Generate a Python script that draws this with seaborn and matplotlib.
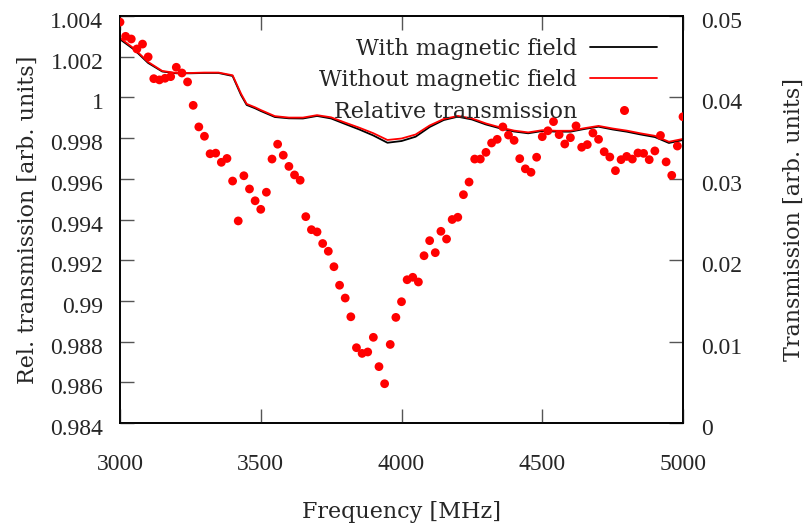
import numpy as np
import pandas as pd
import matplotlib
matplotlib.use("Agg")
import matplotlib.pyplot as plt
import matplotlib.transforms as mtransforms
from matplotlib.lines import Line2D
from matplotlib.font_manager import FontProperties
import seaborn as sns

# Relative transmission (left axis) - points
rel_freq = [3000, 3020, 3040, 3060, 3080, 3100, 3120, 3140, 3160, 3180,
            3200, 3220, 3240, 3260, 3280, 3300, 3320, 3340, 3360, 3380,
            3400, 3420, 3440, 3460, 3480, 3500, 3520, 3540, 3560, 3580,
            3600, 3620, 3640, 3660, 3680, 3700, 3720, 3740, 3760, 3780,
            3800, 3820, 3840, 3860, 3880, 3900, 3920, 3940, 3960, 3980,
            4000, 4020, 4040, 4060, 4080, 4100, 4120, 4140, 4160, 4180,
            4200, 4220, 4240, 4260, 4280, 4300, 4320, 4340, 4360, 4380,
            4400, 4420, 4440, 4460, 4480, 4500, 4520, 4540, 4560, 4580,
            4600, 4620, 4640, 4660, 4680, 4700, 4720, 4740, 4760, 4780,
            4800, 4820, 4840, 4860, 4880, 4900, 4920, 4940, 4960, 4980, 5000]
rel_val = [1.0037, 1.0030, 1.00287, 1.00238, 1.00262, 1.00199, 1.00092, 1.00086, 1.00094, 1.00102,
           1.00148, 1.00120, 1.00076, 0.99961, 0.99855, 0.99809, 0.99723, 0.99726, 0.99681, 0.99700,
           0.99589, 0.99393, 0.99615, 0.99550, 0.99492, 0.99450, 0.99534, 0.99697, 0.99770, 0.99716,
           0.99661, 0.99619, 0.99593, 0.99414, 0.99350, 0.99339, 0.99282, 0.99244, 0.99168, 0.99077,
           0.99014, 0.98922, 0.98770, 0.98742, 0.98749, 0.98821, 0.98677, 0.98593, 0.98786, 0.98919,
           0.98996, 0.99104, 0.99116, 0.99093, 0.99222, 0.99296, 0.99237, 0.99342, 0.99304, 0.99400,
           0.99411, 0.99522, 0.99584, 0.99697, 0.99697, 0.99730, 0.99776, 0.99794, 0.99855, 0.99815,
           0.99789, 0.99699, 0.99649, 0.99632, 0.99706, 0.99807, 0.99836, 0.99881, 0.99817, 0.99771,
           0.99802, 0.99860, 0.99755, 0.99768, 0.99825, 0.99794, 0.99733, 0.99707, 0.99640, 0.99694,
           0.99710, 0.99697, 0.99727, 0.99725, 0.99694, 0.99737, 0.99813, 0.99683, 0.99617, 0.99761, 0.99905]

# Transmission (right axis) - lines
tr_freq = [3000, 3050, 3100, 3150, 3200, 3250, 3300, 3350, 3400, 3430,
           3450, 3480, 3500, 3550, 3600, 3650, 3700, 3750, 3800, 3850,
           3900, 3950, 4000, 4050, 4100, 4150, 4200, 4250, 4300, 4350,
           4400, 4450, 4500, 4550, 4600, 4650, 4700, 4750, 4800, 4850,
           4900, 4950, 5000]
tr_with = [0.04714, 0.04588, 0.04423, 0.04318, 0.04296, 0.04296, 0.04300, 0.04300, 0.04263, 0.04029,
           0.03907, 0.03866, 0.03833, 0.03759, 0.03743, 0.03741, 0.03772, 0.03741, 0.03673, 0.03606,
           0.03532, 0.03443, 0.03464, 0.03517, 0.03636, 0.03722, 0.03763, 0.03729, 0.03667, 0.03620,
           0.03581, 0.03559, 0.03587, 0.03579, 0.03579, 0.03612, 0.03640, 0.03606, 0.03579, 0.03544,
           0.03513, 0.03440, 0.03477]
tr_without = [0.04730, 0.04600, 0.04435, 0.04325, 0.04300, 0.04300, 0.04305, 0.04305, 0.04272, 0.04045,
              0.03920, 0.03878, 0.03845, 0.03770, 0.03752, 0.03752, 0.03782, 0.03755, 0.03690, 0.03628,
              0.03560, 0.03477, 0.03495, 0.03544, 0.03655, 0.03735, 0.03772, 0.03742, 0.03680, 0.03632,
              0.03592, 0.03570, 0.03597, 0.03590, 0.03590, 0.03622, 0.03650, 0.03618, 0.03592, 0.03558,
              0.03528, 0.03455, 0.03490]

left_ticks = [1.004, 1.002, 1.0, 0.998, 0.996, 0.994, 0.992, 0.99, 0.988, 0.986, 0.984]
left_labels = ["1.004", "1.002", "1", "0.998", "0.996", "0.994", "0.992", "0.99", "0.988", "0.986", "0.984"]
right_ticks = [0.05, 0.04, 0.03, 0.02, 0.01, 0.0]
right_labels = ["0.05", "0.04", "0.03", "0.02", "0.01", "0"]
x_ticks = [3000, 3500, 4000, 4500, 5000]

sns.set_style("ticks")
plt.rcParams["font.family"] = ["Liberation Serif", "DejaVu Serif"]
FS = 16          # axis titles and legend (DejaVu Serif)
TFS = 17         # tick labels (Liberation Serif)
TXT = ["DejaVu Serif"]

fig = plt.figure(figsize=(8.08, 5.27), dpi=100)
ax = fig.add_axes([120 / 808, 1 - 423 / 527, 563 / 808, 407 / 527])
ax2 = ax.twinx()

df_rel = pd.DataFrame({"f": rel_freq, "v": rel_val})
df_tr = pd.DataFrame({"f": tr_freq, "w": tr_with, "wo": tr_without})

sns.lineplot(data=df_tr, x="f", y="w", ax=ax2, color="black", lw=1.3, legend=False)
sns.lineplot(data=df_tr, x="f", y="wo", ax=ax2, color="#ff0000", lw=1.3, legend=False)
sns.scatterplot(data=df_rel, x="f", y="v", ax=ax, color="#ff0000", s=40, edgecolor="none",
                legend=False, zorder=5)

ax.set_zorder(ax2.get_zorder() + 1)
ax.patch.set_visible(False)

ax.set_xlim(3000, 5000)
ax.set_ylim(0.984, 1.004)
ax2.set_ylim(0, 0.05)

ax.set_xticks(x_ticks)
ax.set_xticklabels([str(t) for t in x_ticks], fontsize=TFS)
ax.set_yticks(left_ticks)
ax.set_yticklabels(left_labels, fontsize=TFS)
ax2.set_yticks(right_ticks)
ax2.set_yticklabels(right_labels, fontsize=TFS)

ax.tick_params(axis="both", direction="in", length=10, width=1, color="#555555",
               top=True, right=False)
ax.tick_params(axis="y", pad=12)
ax.tick_params(axis="x", pad=22)
ax2.tick_params(axis="y", direction="in", length=10, width=1, color="#555555", pad=13)

# shift y tick labels slightly downward, as in the reference
off = mtransforms.ScaledTranslation(0, -4 / 100, fig.dpi_scale_trans)
for lab in ax.get_yticklabels() + ax2.get_yticklabels():
    lab.set_transform(lab.get_transform() + off)

for a in (ax, ax2):
    for sp in a.spines.values():
        sp.set_visible(True)
        sp.set_linewidth(1.2)
        sp.set_color("black")

ax.set_xlabel("Frequency [MHz]", fontsize=FS, family=TXT, labelpad=19)
ax.set_ylabel("Rel. transmission [arb. units]", fontsize=FS, family=TXT, labelpad=8)
ax2.set_ylabel("Transmission [arb. units]", fontsize=FS, family=TXT, labelpad=29)

handles = [Line2D([], [], color="black", lw=1.3),
           Line2D([], [], color="#ff0000", lw=1.3),
           Line2D([], [], color="#ff0000", lw=0, marker="o", markersize=6.5, markeredgewidth=0)]
labels = ["With magnetic field", "Without magnetic field", "Relative transmission"]
leg = ax.legend(handles, labels, loc="upper right", bbox_to_anchor=(0.954, 0.947),
                frameon=False, markerfirst=False,
                prop=FontProperties(family=TXT, size=FS), handlelength=3.0,
                handletextpad=0.6, labelspacing=0.43, borderpad=0, borderaxespad=0)

fig.savefig("out.png", dpi=100)
